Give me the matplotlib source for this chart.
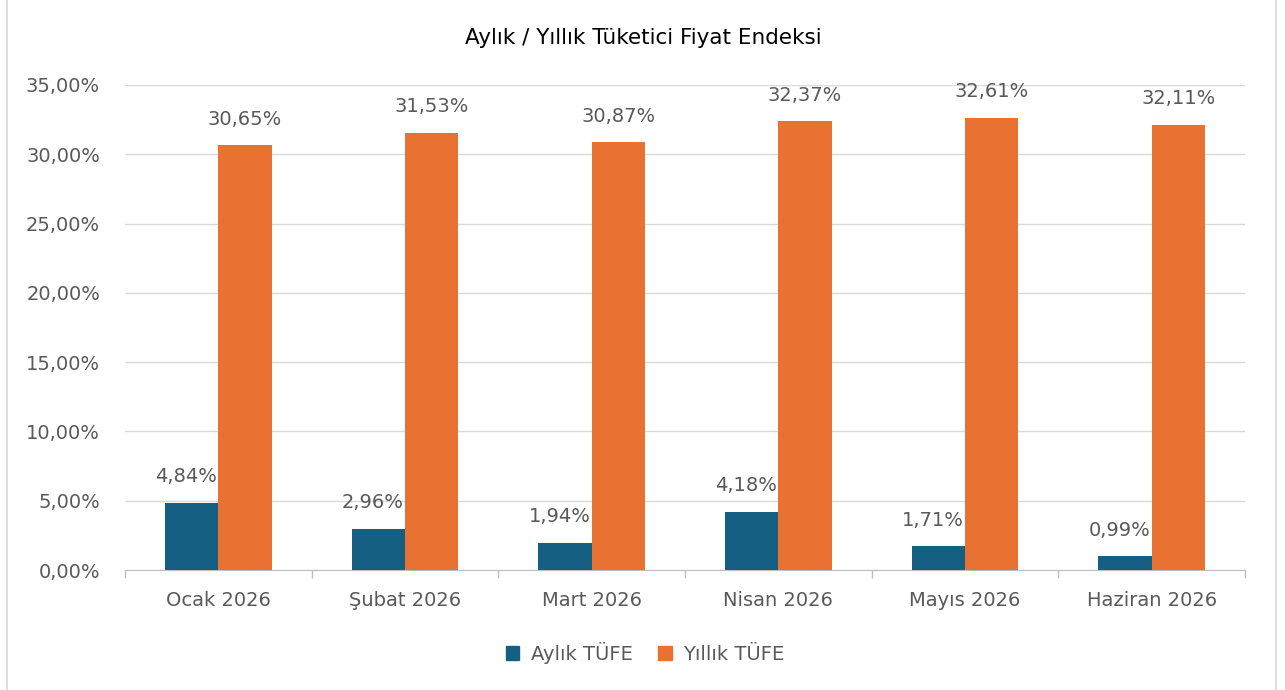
import matplotlib.pyplot as plt
import numpy as np
from matplotlib.lines import Line2D
from matplotlib.patches import Patch

categories = ["Ocak 2026", "Şubat 2026", "Mart 2026", "Nisan 2026", "Mayıs 2026", "Haziran 2026"]
aylik = [4.84, 2.96, 1.94, 4.18, 1.71, 0.99]
yillik = [30.65, 31.53, 30.87, 32.37, 32.61, 32.11]
yticks = [0, 5, 10, 15, 20, 25, 30, 35]

BLUE = "#156082"
ORANGE = "#E97132"
TEXT = "#595959"

plt.rcParams["font.family"] = ["DejaVu Sans"]

fig = plt.figure(figsize=(12.85, 6.9), dpi=100)
ax = fig.add_axes([125 / 1285, 1 - 570 / 690, 1120 / 1285, 485 / 690])

x = np.arange(len(categories))
w = 0.285
ax.bar(x - w / 2, aylik, w, color=BLUE, zorder=3)
ax.bar(x + w / 2, yillik, w, color=ORANGE, zorder=3)

def fmt(v):
    return f"{v:.2f}%".replace(".", ",")

for i, (a, y) in enumerate(zip(aylik, yillik)):
    ax.text(x[i] - w / 2 - 0.03, a + 1.2, fmt(a), ha="center", va="bottom",
            fontsize=14, color=TEXT)
    ax.text(x[i] + w / 2, y + 1.2, fmt(y), ha="center", va="bottom",
            fontsize=14, color=TEXT)

ax.set_xlim(-0.5, len(categories) - 0.5)
ax.set_ylim(0, 35)
ax.set_yticks(yticks)
ax.set_yticklabels([fmt(v) for v in yticks], fontsize=14, color=TEXT)
ax.yaxis.grid(True, color="#D9D9D9", linewidth=1, zorder=0)
ax.tick_params(axis="y", length=0, pad=18)

ax.set_xticks(x)
ax.set_xticklabels(categories, fontsize=14, color=TEXT)
ax.set_xticks(np.arange(len(categories) + 1) - 0.5, minor=True)
ax.tick_params(axis="x", which="major", length=0, pad=15)
ax.tick_params(axis="x", which="minor", length=6, color="#BFBFBF", width=1)

for s in ["top", "right", "left"]:
    ax.spines[s].set_visible(False)
ax.spines["bottom"].set_color("#BFBFBF")

fig.text(643 / 1285, 1 - 38 / 690, "Aylık / Yıllık Tüketici Fiyat Endeksi",
         ha="center", va="center", fontsize=15.5, color="#000000")

handles = [Patch(color=BLUE, label="Aylık TÜFE"), Patch(color=ORANGE, label="Yıllık TÜFE")]
fig.legend(handles=handles, loc="center", bbox_to_anchor=(645 / 1285, 1 - 653 / 690),
           ncol=2, frameon=False, fontsize=14, labelcolor=TEXT,
           handlelength=0.7, handleheight=0.7, handletextpad=0.6, columnspacing=1.3)

for xp in (7, 1276):
    fig.add_artist(Line2D([xp / 1285, xp / 1285], [0, 1], color="#D9D9D9",
                          linewidth=1.2, transform=fig.transFigure))

fig.savefig("out.png", dpi=100)
